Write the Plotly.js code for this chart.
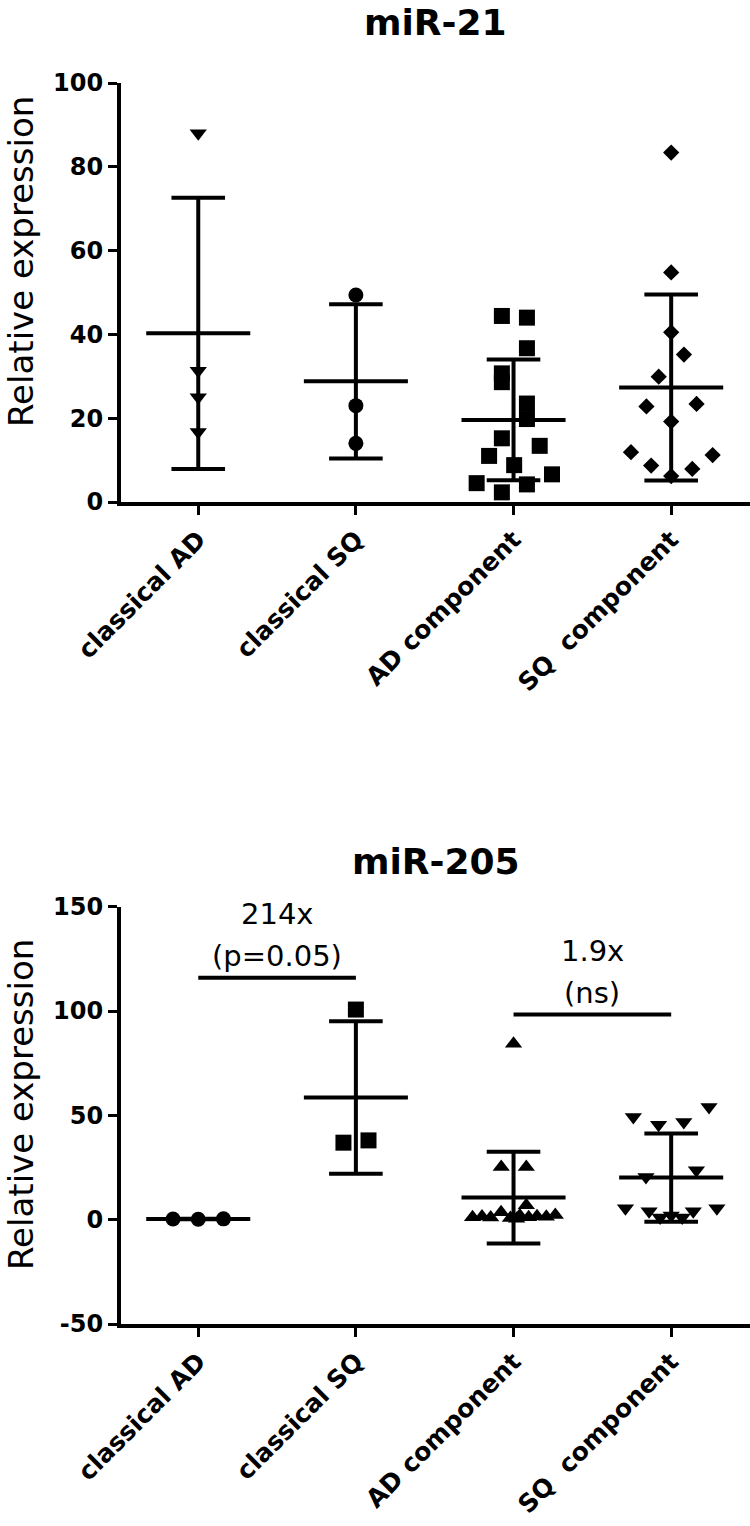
<!DOCTYPE html>
<html><head><meta charset="utf-8">
<script src="https://cdn.plot.ly/plotly-3.0.1.min.js"></script>
<style>html,body{margin:0;padding:0;background:#fff}</style>
</head><body><div id="chart" style="width:750px;height:1526px"></div>
<script>
// ---- categories & tick labels ----
const categories = ['classical AD', 'classical SQ', 'AD component', 'SQ\u00a0 component'];
const titleTop = 'miR-21';
const titleBottom = 'miR-205';
const yTitle = 'Relative expression';
const yTicksTop = [0, 20, 40, 60, 80, 100];
const yTickTextTop = ['0', '20', '40', '60', '80', '100'];
const yTicksBottom = [-50, 0, 50, 100, 150];
const yTickTextBottom = ['-50', '0', '50', '100', '150'];

// ---- miR-21 values ----
const mir21_classicalAD = [88, 31.3, 25, 16.7];
const mir21_classicalSQ = [49.4, 23, 14];
const mir21_ADcomponent = [44.4, 44, 36.7, 30.7, 28.6, 23.5, 19.8, 15.2, 13.4, 11, 8.8, 6.6, 4.5, 4.2, 2.3];
const mir21_SQcomponent = [83.4, 54.8, 40.5, 35.2, 29.9, 22.8, 23.4, 19.2, 11.9, 11.2, 8.7, 7.9, 6.2];
// horizontal scatter (jitter) of the dots, in category units
const mir21_jitterAD = [0, 0, 0, 0];
const mir21_jitterSQ = [0, 0, 0];
const mir21_jitterADc = [-0.074, 0.085, 0.085, -0.074, -0.074, 0.085, 0.085, -0.074, 0.166, -0.155, 0.004, 0.244, -0.234, 0.085, -0.074];
const mir21_jitterSQc = [0, 0, 0, 0.081, -0.079, -0.157, 0.161, 0, -0.255, 0.263, -0.127, 0.134, 0];

// ---- miR-205 values ----
const mir205_classicalAD = [0.3, 0.2, 0.4];
const mir205_classicalSQ = [100.7, 36.9, 38];
const mir205_ADcomponent = [84.3, 25.3, 25.3, 6.9, 1.2, 1.5, 1.0, 3.5, 0.8, 2.0, 1.2, 1.6, 1.4, 2.2, 0.5];
const mir205_SQcomponent = [54, 49.2, 46.8, 45.5, 23.7, 20.5, 5.5, 4, 1, 2, 1, 4, 5.5];
const mir205_jitterAD = [-0.16, 0, 0.16];
const mir205_jitterSQ = [0, -0.079, 0.08];
const mir205_jitterADc = [0, -0.078, 0.081, 0.081, -0.26, -0.2, -0.145, -0.079, -0.02, 0.04, 0.096, 0.149, 0.208, 0.265, 0.02];
const mir205_jitterSQc = [0.24, -0.24, 0.08, -0.08, 0.16, -0.16, -0.29, -0.14, -0.07, 0, 0.07, 0.14, 0.29];

// ---- comparison brackets (miR-205) ----
const sigFrom = [0, 2];
const sigTo = [1, 3];
const sigLevel = [116, 98.3];
const sigFold = ['214x', '1.9x'];
const sigP = ['(p=0.05)', '(ns)'];

// ---- styles ----
const symbolsTop = ['triangle-down', 'circle', 'square', 'diamond'];
const sizesTop = [15, 15, 16, 12.5];
const symbolsBottom = ['circle', 'square', 'triangle-up', 'triangle-down'];
const sizesBottom = [15, 16, 15, 15];
const FONT = 'DejaVu Sans, Liberation Sans, Arial, sans-serif';
const LW = 4;

function stats(a) {
  const m = a.reduce((s, v) => s + v, 0) / a.length;
  const sd = Math.sqrt(a.reduce((s, v) => s + (v - m) * (v - m), 0) / (a.length - 1));
  return [m, sd];
}

const traces = [];
function addPanel(groups, jitters, symbols, sizes, xa, ya) {
  groups.forEach((vals, i) => {
    traces.push({
      type: 'scatter', mode: 'markers', xaxis: xa, yaxis: ya,
      x: vals.map((v, k) => i + jitters[i][k]), y: vals,
      marker: {symbol: symbols[i], size: sizes[i], color: '#000', line: {width: 0}},
      cliponaxis: false, showlegend: false, hoverinfo: 'y'
    });
    const [m, sd] = stats(vals);
    const hw = 0.33, cw = 0.17;
    traces.push({
      type: 'scatter', mode: 'lines', xaxis: xa, yaxis: ya,
      x: [i - hw, i + hw, null, i, i, null, i - cw, i + cw, null, i - cw, i + cw],
      y: [m, m, null, m - sd, m + sd, null, m + sd, m + sd, null, m - sd, m - sd],
      line: {color: '#000', width: LW}, cliponaxis: false, showlegend: false, hoverinfo: 'skip'
    });
  });
}

addPanel([mir21_classicalAD, mir21_classicalSQ, mir21_ADcomponent, mir21_SQcomponent],
         [mir21_jitterAD, mir21_jitterSQ, mir21_jitterADc, mir21_jitterSQc],
         symbolsTop, sizesTop, 'x', 'y');
addPanel([mir205_classicalAD, mir205_classicalSQ, mir205_ADcomponent, mir205_SQcomponent],
         [mir205_jitterAD, mir205_jitterSQ, mir205_jitterADc, mir205_jitterSQc],
         symbolsBottom, sizesBottom, 'x2', 'y2');

const annotations = [];
const annFont = {family: FONT, size: 29, color: '#000'};
sigLevel.forEach((lev, j) => {
  traces.push({
    type: 'scatter', mode: 'lines', xaxis: 'x2', yaxis: 'y2',
    x: [sigFrom[j], sigTo[j]], y: [lev, lev],
    line: {color: '#000', width: LW}, cliponaxis: false, showlegend: false, hoverinfo: 'skip'
  });
  const cx = (sigFrom[j] + sigTo[j]) / 2;
  annotations.push({xref: 'x2', yref: 'y2', x: cx, y: lev, yanchor: 'middle', yshift: 22,
    text: sigP[j], showarrow: false, font: annFont});
  annotations.push({xref: 'x2', yref: 'y2', x: cx, y: lev, yanchor: 'middle', yshift: 64,
    text: sigFold[j], showarrow: false, font: annFont});
});

const H = 1526, W = 750;
const xDom = [121 / W, 1];
const yDomTop = [1 - 502 / H, 1 - 83 / H];
const yDomBot = [1 - 1324 / H, 1 - 906.7 / H];
const titleFont = {family: FONT, size: 36, color: '#000', weight: 'bold'};
const yTitleFont = {family: FONT, size: 34, color: '#000'};

annotations.push({xref: 'paper', yref: 'paper', x: (121 + 750) / 2 / W, y: 1 - 22 / H,
  xanchor: 'center', yanchor: 'middle', text: titleTop, showarrow: false, font: titleFont});
annotations.push({xref: 'paper', yref: 'paper', x: (121 + 750) / 2 / W, y: 1 - 862 / H,
  xanchor: 'center', yanchor: 'middle', text: titleBottom, showarrow: false, font: titleFont});
annotations.push({xref: 'paper', yref: 'paper', x: 21 / W, y: 1 - 262 / H,
  xanchor: 'center', yanchor: 'middle', textangle: -90, text: yTitle, showarrow: false, font: yTitleFont});
annotations.push({xref: 'paper', yref: 'paper', x: 21 / W, y: 1 - 1105 / H,
  xanchor: 'center', yanchor: 'middle', textangle: -90, text: yTitle, showarrow: false, font: yTitleFont});

const yTickFont = {family: FONT, size: 24, color: '#000', weight: 'bold'};
const xTickFont = {family: FONT, size: 25, color: '#000', weight: 'bold'};
function xAxis(anchor) {
  return {domain: xDom, anchor: anchor, range: [-0.49, 3.5], tickmode: 'array',
    tickvals: [0, 1, 2, 3], ticktext: categories, tickangle: -45, ticks: 'outside',
    ticklen: 9, tickwidth: 3, tickcolor: '#000', showline: true, linewidth: LW, linecolor: '#000',
    showgrid: false, zeroline: false, tickfont: xTickFont, fixedrange: true};
}
function yAxis(anchor, dom, range, tv, tt) {
  return {domain: dom, anchor: anchor, range: range, tickmode: 'array', tickvals: tv, ticktext: tt,
    ticks: 'outside', ticklen: 9, tickwidth: 3, tickcolor: '#000', showline: true,
    linewidth: LW, linecolor: '#000', showgrid: false, zeroline: false, tickfont: yTickFont,
    fixedrange: true};
}

const layout = {
  width: W, height: H, margin: {l: 0, r: 0, t: 0, b: 0},
  paper_bgcolor: '#fff', plot_bgcolor: '#fff', showlegend: false,
  xaxis: xAxis('y'), yaxis: yAxis('x', yDomTop, [0, 100], yTicksTop, yTickTextTop),
  xaxis2: xAxis('y2'), yaxis2: yAxis('x2', yDomBot, [-50, 150], yTicksBottom, yTickTextBottom),
  annotations: annotations
};

Plotly.newPlot('chart', traces, layout, {staticPlot: true, displayModeBar: false});
</script>
</body></html>
